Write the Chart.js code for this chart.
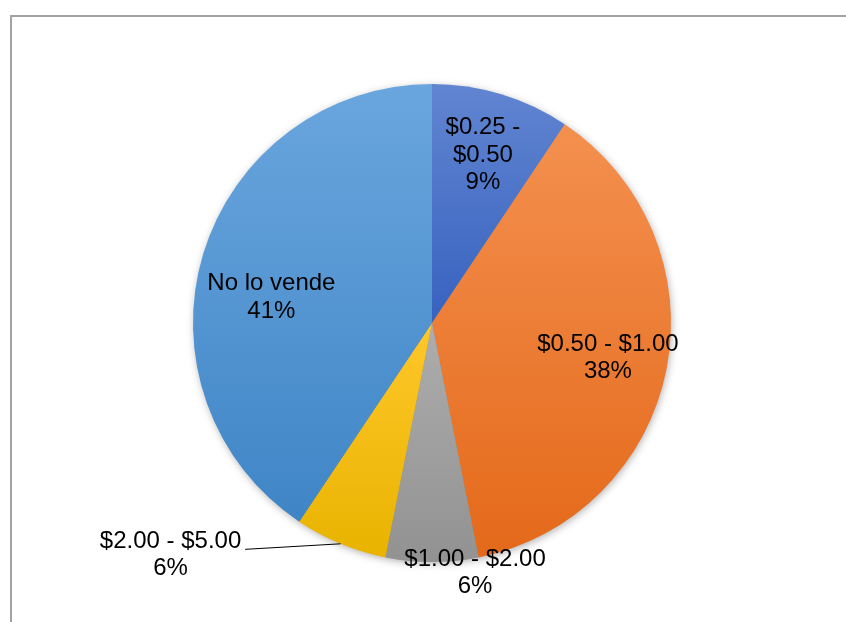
<!DOCTYPE html>
<html>
<head>
<meta charset="utf-8">
<script src="https://cdn.jsdelivr.net/npm/chart.js@4.4.1/dist/chart.umd.min.js"></script>
<style>
    html, body { margin: 0; padding: 0; background: #fff; }
    #wrap { width: 846px; height: 622px; }
</style>
</head>
<body>
<div id="wrap"><canvas id="priceChart" width="846" height="622"></canvas></div>
<script>
// Respuestas por rango de precio (32 en total)
const categories = ['$0.25 - $0.50', '$0.50 - $1.00', '$1.00 - $2.00', '$2.00 - $5.00', 'No lo vende'];
const responses = [3, 12, 2, 2, 13];

// Excel-like vertical gradients: top colour, bottom colour
const topColors = ['#6185d1', '#f4904f', '#adadad', '#ffc72a', '#6aa6de'];
const bottomColors = ['#3762bf', '#e4691a', '#929292', '#e9b300', '#3f85c6'];

// label block centre, relative to pie centre in radius units
const labelSpots = [
    [0.213, -0.703],
    [0.736, 0.146],
    [0.180, 1.046],
    [-1.094, 0.971],
    [-0.672, -0.107]
];
// outside label with a leader line
const leaderEnd = { 3: [-0.782, 0.947] };

const total = responses.reduce((a, b) => a + b, 0);

function pieGeometry(chart) {
    const area = chart.chartArea;
    return {
        cx: (area.left + area.right) / 2,
        cy: (area.top + area.bottom) / 2,
        r: Math.min(area.right - area.left, area.bottom - area.top) / 2
    };
}

// vertical extent of one slice, for its own gradient
function sliceGradient(context) {
    const chart = context.chart;
    const i = context.dataIndex;
    if (!chart.chartArea) return topColors[i];
    const { cx, cy, r } = pieGeometry(chart);
    let before = 0;
    for (let k = 0; k < i; k++) before += responses[k];
    const a0 = -Math.PI / 2 + 2 * Math.PI * before / total;
    const a1 = a0 + 2 * Math.PI * responses[i] / total;
    const ys = [cy, cy + r * Math.sin(a0), cy + r * Math.sin(a1)];
    if (a0 <= Math.PI / 2 && a1 >= Math.PI / 2) ys.push(cy + r);
    if (a0 <= -Math.PI / 2 + 1e-9 || a1 >= 3 * Math.PI / 2 - 1e-9) ys.push(cy - r);
    const y0 = Math.min(...ys), y1 = Math.max(...ys);
    const g = chart.ctx.createLinearGradient(0, y0, 0, y1);
    g.addColorStop(0, topColors[i]);
    g.addColorStop(1, bottomColors[i]);
    return g;
}

const framePlugin = {
    id: 'frame',
    beforeDraw(chart) {
        const ctx = chart.ctx;
        ctx.save();
        ctx.strokeStyle = '#a3a3a3';
        ctx.lineWidth = 2;
        ctx.beginPath();
        ctx.moveTo(11, 622);
        ctx.lineTo(11, 16);
        ctx.lineTo(846, 16);
        ctx.stroke();
        ctx.restore();
    },
    beforeDatasetsDraw(chart) {
        // soft shadow under the pie
        const { cx, cy, r } = pieGeometry(chart);
        const ctx = chart.ctx;
        ctx.save();
        ctx.shadowColor = 'rgba(0,0,0,0.35)';
        ctx.shadowBlur = 9;
        ctx.shadowOffsetX = 1;
        ctx.shadowOffsetY = 2;
        ctx.fillStyle = '#888';
        ctx.beginPath();
        ctx.arc(cx, cy, r - 1, 0, Math.PI * 2);
        ctx.fill();
        ctx.restore();
    }
};

const labelPlugin = {
    id: 'sliceLabels',
    afterDatasetsDraw(chart) {
        const ctx = chart.ctx;
        const meta = chart.getDatasetMeta(0);
        const { cx, cy, r } = pieGeometry(chart);
        const lineH = 27.5;
        ctx.save();
        ctx.font = '24px "Liberation Sans", Arial, sans-serif';
        ctx.fillStyle = '#000';
        ctx.textAlign = 'center';
        ctx.textBaseline = 'middle';
        meta.data.forEach((arc, i) => {
            const pct = Math.round(responses[i] / total * 100) + '%';
            let lines = [categories[i], pct];
            if (i === 0) lines = ['$0.25 -', '$0.50', pct];
            const x = cx + labelSpots[i][0] * r;
            const y = cy + labelSpots[i][1] * r;

            if (leaderEnd[i]) {
                const mid = (arc.startAngle + arc.endAngle) / 2;
                ctx.strokeStyle = '#000';
                ctx.lineWidth = 1;
                ctx.beginPath();
                ctx.moveTo(cx + Math.cos(mid) * r, cy + Math.sin(mid) * r);
                ctx.lineTo(cx + leaderEnd[i][0] * r, cy + leaderEnd[i][1] * r);
                ctx.stroke();
            }

            const startY = y - (lines.length - 1) * lineH / 2;
            lines.forEach((t, k) => ctx.fillText(t, x, startY + k * lineH));
        });
        ctx.restore();
    }
};

new Chart(document.getElementById('priceChart'), {
    type: 'pie',
    data: {
        labels: categories,
        datasets: [{
            data: responses,
            backgroundColor: sliceGradient,
            borderWidth: 0
        }]
    },
    options: {
        responsive: false,
        animation: false,
        layout: {
            padding: { left: 193, right: 175, top: 84, bottom: 60 }
        },
        plugins: {
            legend: { display: false },
            tooltip: { enabled: false }
        }
    },
    plugins: [framePlugin, labelPlugin]
});
</script>
</body>
</html>
